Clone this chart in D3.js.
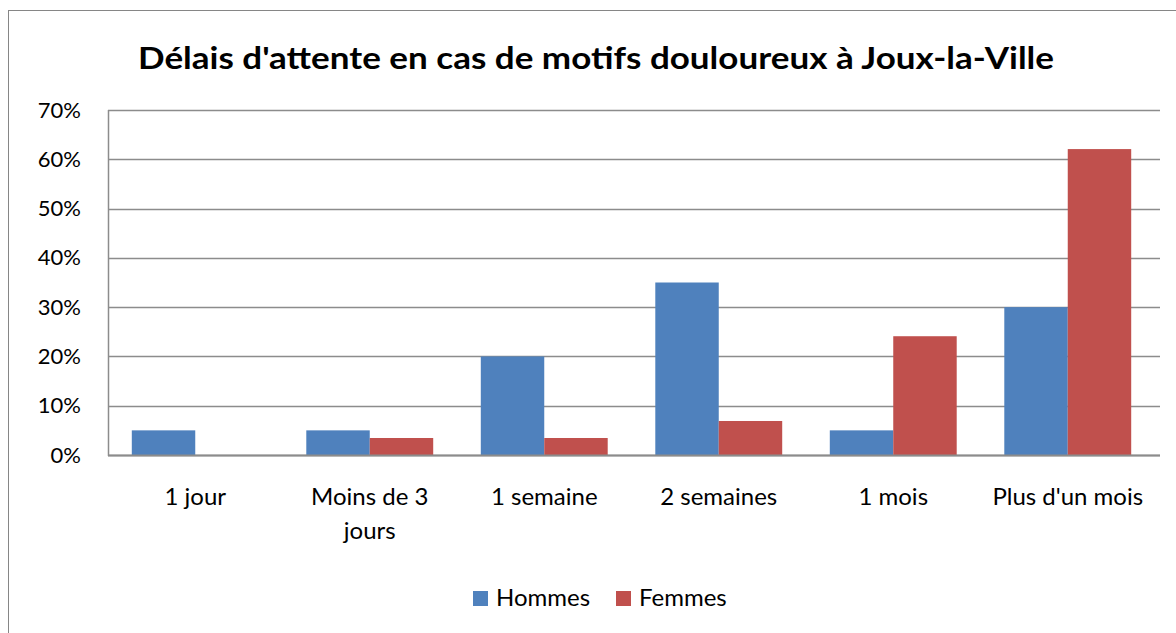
<!DOCTYPE html>
<html>
<head>
<meta charset="utf-8">
<script src="https://cdn.jsdelivr.net/npm/d3@7"></script>
<style>
  html, body { margin: 0; padding: 0; background: #fff; }
  svg { display: block; font-family: Lato, "Open Sans", sans-serif; }
</style>
</head>
<body>
<div id="chart"></div>
<script>
const categories = ["1 jour", "Moins de 3 jours", "1 semaine", "2 semaines", "1 mois", "Plus d'un mois"];
const categoryLines = [["1 jour"], ["Moins de 3", "jours"], ["1 semaine"], ["2 semaines"], ["1 mois"], ["Plus d'un mois"]];
const seriesNames = ["Hommes", "Femmes"];
const hommes = [0.05, 0.05, 0.20, 0.35, 0.05, 0.30];
const femmes = [0, 0.0345, 0.0345, 0.069, 0.241, 0.6207];
const yTicks = [0, 0.1, 0.2, 0.3, 0.4, 0.5, 0.6, 0.7];
const colors = ["#4F81BD", "#C0504D"];

const width = 1176, height = 633;
const margin = {top: 110, right: 21, bottom: 178, left: 108};

const svg = d3.select("#chart").append("svg")
    .attr("width", width)
    .attr("height", height);

// outer chart border
svg.append("rect")
    .attr("x", 8.5).attr("y", 10.5)
    .attr("width", width + 20).attr("height", height + 20)
    .attr("fill", "none")
    .attr("stroke", "#868686")
    .attr("stroke-width", 1);

svg.append("text")
    .attr("x", 596).attr("y", 69)
    .attr("text-anchor", "middle")
    .attr("font-weight", "bold")
    .attr("font-size", 31)
    .attr("textLength", 916)
    .attr("lengthAdjust", "spacingAndGlyphs")
    .attr("fill", "#000")
    .text("Délais d'attente en cas de motifs douloureux à Joux-la-Ville");

const x0 = d3.scaleBand()
    .domain(categories)
    .range([margin.left, width - margin.right])
    .paddingInner(0)
    .paddingOuter(0);

const barW = x0.bandwidth() / 2.75;
const x1 = d3.scaleBand()
    .domain(seriesNames)
    .range([0, barW * 2]);

const y = d3.scaleLinear()
    .domain([0, 0.7])
    .range([height - margin.bottom, margin.top]);

// gridlines
svg.append("g")
    .selectAll("line")
    .data(yTicks)
    .join("line")
    .attr("x1", margin.left).attr("x2", width - margin.right + 5)
    .attr("y1", d => Math.round(y(d)) + 0.5).attr("y2", d => Math.round(y(d)) + 0.5)
    .attr("stroke", "#8c8c8c")
    .attr("stroke-width", 1.5);

// y axis line
svg.append("line")
    .attr("x1", margin.left + 0.5).attr("x2", margin.left + 0.5)
    .attr("y1", y(0.7)).attr("y2", y(0) + 1)
    .attr("stroke", "#8c8c8c")
    .attr("stroke-width", 1.5);

const yAxis = d3.axisLeft(y)
    .tickValues(yTicks)
    .tickFormat(d3.format(".0%"))
    .tickSize(0)
    .tickPadding(0);

svg.append("g")
    .attr("transform", `translate(${margin.left - 27},0)`)
    .call(yAxis)
    .call(g => g.select(".domain").remove())
    .call(g => g.selectAll("text")
        .attr("font-size", 22)
        .attr("font-family", "Lato, 'Open Sans', sans-serif")
        .attr("fill", "#000"));

const data = categories.map((c, i) => ({cat: c, values: [hommes[i], femmes[i]]}));

const groups = svg.append("g")
    .selectAll("g")
    .data(data)
    .join("g")
    .attr("transform", d => `translate(${x0(d.cat) + (x0.bandwidth() - barW * 2) / 2},0)`);

groups.selectAll("rect")
    .data(d => d.values.map((v, j) => ({name: seriesNames[j], value: v, j})))
    .join("rect")
    .attr("x", d => x1(d.name))
    .attr("width", x1.bandwidth())
    .attr("y", d => y(d.value))
    .attr("height", d => y(0) - y(d.value))
    .attr("fill", d => colors[d.j]);

// x axis line drawn over bars
svg.append("line")
    .attr("x1", margin.left).attr("x2", width - margin.right + 5)
    .attr("y1", Math.round(y(0)) + 0.5).attr("y2", Math.round(y(0)) + 0.5)
    .attr("stroke", "#8c8c8c")
    .attr("stroke-width", 2);

// category labels
const catLabels = svg.append("g")
    .selectAll("text")
    .data(categories)
    .join("text")
    .attr("x", d => x0(d) + x0.bandwidth() / 2)
    .attr("y", 505)
    .attr("text-anchor", "middle")
    .attr("font-size", 24)
    .attr("fill", "#000");

catLabels.selectAll("tspan")
    .data((d, i) => categoryLines[i])
    .join("tspan")
    .attr("x", function() { return d3.select(this.parentNode).attr("x"); })
    .attr("dy", (d, i) => i === 0 ? 0 : 34)
    .text(d => d);

// legend
const legendX = [473, 616];
const legend = svg.append("g")
    .selectAll("g")
    .data(seriesNames)
    .join("g")
    .attr("transform", (d, i) => `translate(${legendX[i]},591)`);

legend.append("rect")
    .attr("width", 15).attr("height", 15)
    .attr("fill", (d, i) => colors[i]);

legend.append("text")
    .attr("x", 23).attr("y", 15)
    .attr("font-size", 24)
    .attr("fill", "#000")
    .text(d => d);
</script>
</body>
</html>
